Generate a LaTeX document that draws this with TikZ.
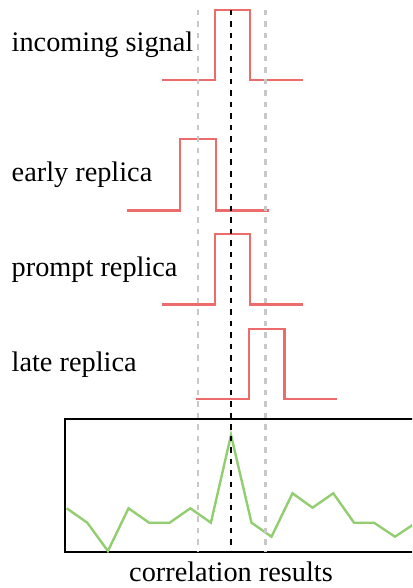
\documentclass[tikz,border=0pt]{standalone}
\usepackage{fontspec}
\setmainfont{Liberation Serif}
\definecolor{sigred}{RGB}{236,108,108}
\definecolor{corrgreen}{RGB}{146,206,112}
\definecolor{guidegray}{RGB}{200,200,200}
\tikzset{
  pulse/.style={draw=sigred, line width=2.4pt},
  corr/.style={draw=corrgreen, line width=2.4pt, line join=miter},
  guideline/.style={draw=guidegray, line width=2.2pt, dash pattern=on 5.5pt off 6pt},
  centerline/.style={draw=black, line width=2.2pt, dash pattern=on 5.5pt off 6pt},
  frame/.style={draw=black, line width=2.8pt},
  lbl/.style={font=\fontsize{28.3}{32}\selectfont, inner sep=0pt, anchor=base west},
}
\begin{document}
\begin{tikzpicture}[x=1pt,y=-1pt]
\useasboundingbox (0,0) rectangle (412,588);
\clip (0,0) rectangle (412,588);
% labels
\node[lbl] (incoming) at (11.5,51.7) {incoming signal};
\node[lbl] (early) at (11.5,181.7) {early replica};
\node[lbl] (prompt) at (11.5,276.7) {prompt replica};
\node[lbl] (late) at (11.5,371.7) {late replica};
\node[lbl, anchor=base] (results) at (231,581.7) {correlation results};
% pulses
\draw[pulse] (161.7,80.3) -- (215,80.3) -- (215,10) -- (250,10) -- (250,80.3) -- (302.7,80.3);
\draw[pulse] (127.3,210.3) -- (180,210.3) -- (180,139.3) -- (216,139.3) -- (216,210.3) -- (269,210.3);
\draw[pulse] (161.7,304.3) -- (215,304.3) -- (215,234) -- (250,234) -- (250,304.3) -- (302.7,304.3);
\draw[pulse] (195.7,399) -- (249,399) -- (249,329) -- (284.3,329) -- (284.3,399) -- (337.3,399);
% correlation box
\draw[frame] (65,419) rectangle (440,552);
\draw[corr] (66.7,508.3) -- (87.3,522.7) -- (107.9,551) -- (128.5,508.3) -- (149.1,522.7)
  -- (169.7,522.7) -- (190.3,508.3) -- (210.9,522.7) -- (231,435) -- (251.5,522.7)
  -- (271.5,536.7) -- (292.5,493.3) -- (312.5,507.7) -- (333.3,493.3) -- (354,522.7)
  -- (374,522.7) -- (395,536.7) -- (416,522.7);
% guide lines
\draw[guideline] (198.3,10) -- (198.3,552);
\draw[guideline] (265.5,10) -- (265.5,552);
\draw[centerline] (231,10) -- (231,552);
\end{tikzpicture}
\end{document}
